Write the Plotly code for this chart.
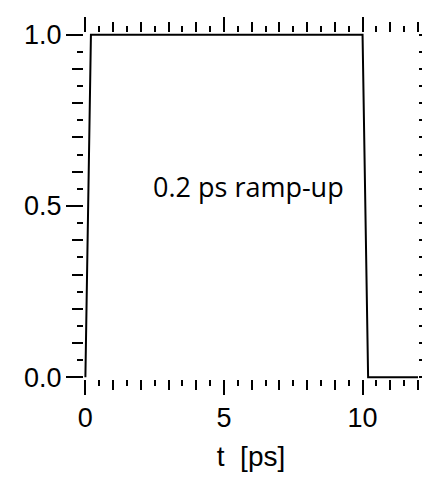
import plotly.graph_objects as go

# ---- data ----
t_ps = [0.0, 0.2, 10.0, 10.2, 12.5]
amplitude = [0.0, 1.0, 1.0, 0.0, 0.0]

x_major_vals = [0, 5, 10]
x_major_text = ["0", "5", "10"]
x_mid_vals = [1, 2, 3, 4, 6, 7, 8, 9, 11, 12]
x_minor_step = 0.5

y_major_vals = [0.0, 0.5, 1.0]
y_major_text = ["0.0", "0.5", "1.0"]
y_mid_vals = [0.1, 0.2, 0.3, 0.4, 0.6, 0.7, 0.8, 0.9]
y_minor_step = 0.05

annotation_text = "0.2 ps ramp-up"
annotation_pos = (5.87, 0.556)
x_title = "t  [ps]"

# ---- figure ----
XR = [-0.05, 12.0]
YR = [-0.005, 1.005]
tick_font = dict(family="Liberation Sans, Arial, sans-serif", size=27, color="black")
title_font = dict(family="Liberation Sans, Arial, sans-serif", size=28, color="black")

common = dict(showgrid=False, zeroline=False, showline=False, ticks="outside",
              tickcolor="black", tickwidth=2, mirror="ticks")

fig = go.Figure()
fig.add_trace(go.Scatter(x=t_ps, y=amplitude, mode="lines",
                         line=dict(color="black", width=2),
                         showlegend=False, hoverinfo="skip"))
# empty traces so the overlay tick axes (finest ticks) are drawn
fig.add_trace(go.Scatter(x=[], y=[], xaxis="x2", yaxis="y", mode="lines",
                         showlegend=False, hoverinfo="skip"))
fig.add_trace(go.Scatter(x=[], y=[], xaxis="x", yaxis="y2", mode="lines",
                         showlegend=False, hoverinfo="skip"))

fig.add_annotation(x=annotation_pos[0], y=annotation_pos[1], text=annotation_text,
                   showarrow=False, xanchor="center", yanchor="middle",
                   font=dict(family="Open Sans, sans-serif", size=27, color="black"))

fig.update_layout(
    width=422, height=471,
    margin=dict(l=76, r=12, t=23, b=100),
    paper_bgcolor="white", plot_bgcolor="white",
    showlegend=False,
    xaxis=dict(range=XR, tickmode="array", tickvals=x_major_vals, ticktext=x_major_text,
               ticklen=15, tickfont=tick_font, ticklabelstandoff=0,
               minor=dict(tickmode="array", tickvals=x_mid_vals, ticklen=10,
                          tickwidth=2, tickcolor="black", ticks="outside"),
               title=dict(text=x_title, font=title_font, standoff=13),
               **common),
    xaxis2=dict(range=XR, overlaying="x", anchor="y", side="bottom",
                tickmode="linear", tick0=0, dtick=x_minor_step, ticklen=6,
                showticklabels=False, **common),
    yaxis=dict(range=YR, tickmode="array", tickvals=y_major_vals, ticktext=y_major_text,
               ticklen=17, tickfont=tick_font, ticklabelstandoff=-1,
               minor=dict(tickmode="array", tickvals=y_mid_vals, ticklen=11,
                          tickwidth=2, tickcolor="black", ticks="outside"),
               **common),
    yaxis2=dict(range=YR, overlaying="y", anchor="x", side="left",
                tickmode="linear", tick0=0, dtick=y_minor_step, ticklen=6,
                showticklabels=False, **common),
)

fig.write_html("out.html")
